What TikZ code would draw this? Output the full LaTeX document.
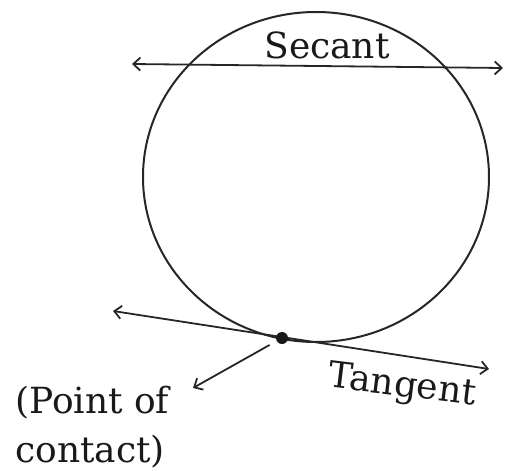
\documentclass[tikz,border=0pt]{standalone}
\usepackage{fontspec}
\setmainfont{DejaVu Serif}
\usetikzlibrary{arrows.meta,shapes.geometric}
\begin{document}
\begin{tikzpicture}[x=1pt,y=-1pt,
  line/.style={line width=1.8pt, draw=black!85},
  bartip/.tip={Straight Barb[length=7pt,width=13pt]},
  lbl/.style={font=\fontsize{36}{40}\selectfont, inner sep=0pt, text=black!90}]
\useasboundingbox (0,0) rectangle (506,471);
% circle
\node[draw=black!85, line width=2pt, ellipse, minimum width=346pt, minimum height=330pt, inner sep=0pt, outer sep=0pt] (circ) at (316,177) {};
% secant
\coordinate (sL) at (132,64);
\coordinate (sR) at (503,68);
\draw[line, bartip-bartip] (sL) -- (sR);
% tangent
\coordinate (tL) at (113,311);
\coordinate (tR) at (489,369);
\draw[line, bartip-bartip] (tL) -- (tR);
% point of contact
\node[circle, fill=black!90, minimum size=12pt, inner sep=0pt] (P) at (282,338) {};
\coordinate (pTip) at (193,388);
\draw[line, -bartip, shorten <=8pt] (P) -- (pTip);
% labels
\node[lbl, anchor=base] (sec) at (327,58) {Secant};
\node[lbl, anchor=base west] (poc1) at (15,413) {(Point of};
\node[lbl, anchor=base west] (poc2) at (15,462) {contact)};
\node[lbl, anchor=base, rotate=-7] (tan) at (401,396) {Tangent};
\end{tikzpicture}
\end{document}
